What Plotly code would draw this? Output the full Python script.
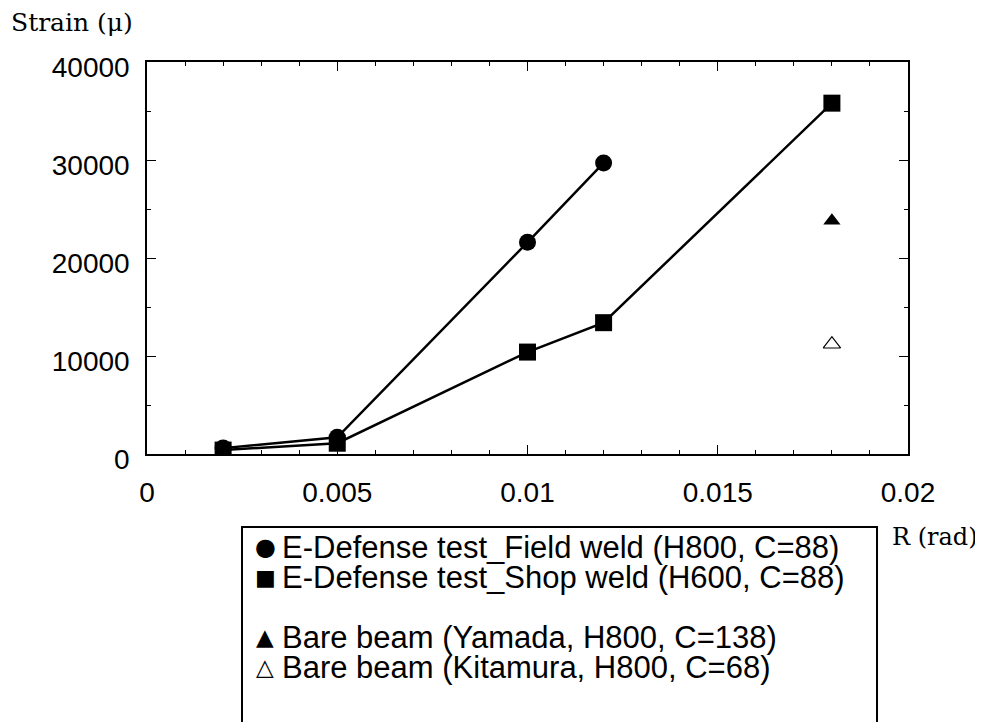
import plotly.graph_objects as go

# ---- data ----
x_field = [0.002, 0.005, 0.010, 0.012]
y_field = [600, 1700, 21600, 29700]
x_shop = [0.002, 0.005, 0.010, 0.012, 0.018]
y_shop = [400, 1100, 10400, 13400, 35800]
x_yamada = [0.018]
y_yamada = [23800]
x_kitamura = [0.018]
y_kitamura = [11200]

legend_labels = [
    "E-Defense test_Field weld (H800, C=88)",
    "E-Defense test_Shop weld (H600, C=88)",
    "Bare beam (Yamada, H800, C=138)",
    "Bare beam (Kitamura, H800, C=68)",
]
legend_glyphs = ["\u25CF", "\u25A0", "\u25B2", "\u25B3"]
y_title = "Strain (\u03bc)"
x_title = "R (rad)"

# page body has an 8px margin; figure sized so it ends at the window edge
OFF = 8
W, H = 983 - OFF, 722 - OFF
PL, PR, PT, PB = 147, 908, 62, 454  # plot area in window pixels


def px(xw):
    return (xw - PL) / (PR - PL)


def py(yw):
    return (PB - yw) / (PB - PT)


fig = go.Figure()
fig.add_trace(go.Scatter(x=x_field, y=y_field, mode="lines+markers",
                         line=dict(color="black", width=2.5),
                         marker=dict(symbol="circle", size=17, color="black")))
fig.add_trace(go.Scatter(x=x_shop, y=y_shop, mode="lines+markers",
                         line=dict(color="black", width=2.5),
                         marker=dict(symbol="square", size=17, color="black")))
fig.add_trace(go.Scatter(x=x_yamada, y=y_yamada, mode="markers",
                         marker=dict(symbol="triangle-up", size=15, color="black")))
fig.add_trace(go.Scatter(x=x_kitamura, y=y_kitamura, mode="markers",
                         marker=dict(symbol="triangle-up-open", size=15, color="black",
                                     line=dict(width=1.2, color="black"))))

axis_common = dict(
    showline=True, linecolor="black", linewidth=1.5, mirror="ticks",
    ticks="inside", ticklen=9, tickwidth=1.2, tickcolor="black",
    showgrid=False, zeroline=False,
    tickfont=dict(family="Liberation Sans, Arial", size=28, color="black"),
)
fig.update_xaxes(range=[0, 0.02], tick0=0, dtick=0.005,
                 minor=dict(tick0=0, dtick=0.001, ticks="inside", ticklen=4,
                            tickwidth=1, tickcolor="black"),
                 ticklabelstandoff=13, **axis_common)
fig.update_yaxes(range=[0, 40000], tick0=0, dtick=10000, tickformat="d",
                 minor=dict(tick0=0, dtick=5000, ticks="inside", ticklen=4,
                            tickwidth=1, tickcolor="black"),
                 ticklabelstandoff=10, ticklabelshift=5, **axis_common)

annotations = []
annotations.append(dict(text=y_title, xref="paper", yref="paper",
                        x=px(9), y=py(23), xanchor="left", yanchor="middle",
                        showarrow=False,
                        font=dict(family="DejaVu Serif", size=25, color="black")))
annotations.append(dict(text=x_title, xref="paper", yref="paper",
                        x=px(890), y=py(537), xanchor="left", yanchor="middle",
                        showarrow=False,
                        font=dict(family="DejaVu Serif", size=24, color="black")))
# manual legend
row_y = [547, 577, 637, 667]
glyph_sizes = [24, 22, 23, 23]
for lab, gl, gs, ry in zip(legend_labels, legend_glyphs, glyph_sizes, row_y):
    annotations.append(dict(text=gl, xref="paper", yref="paper",
                            x=px(265), y=py(ry), xanchor="center", yanchor="middle",
                            showarrow=False,
                            font=dict(family="DejaVu Sans", size=gs, color="black")))
    annotations.append(dict(text=lab, xref="paper", yref="paper",
                            x=px(280), y=py(ry), xanchor="left", yanchor="middle",
                            showarrow=False,
                            font=dict(family="Liberation Sans, Arial", size=31, color="black")))

fig.update_layout(
    width=W, height=H,
    margin=dict(l=PL - OFF, r=W - (PR - OFF), t=PT - OFF, b=H - (PB - OFF)),
    paper_bgcolor="white", plot_bgcolor="white",
    showlegend=False,
    annotations=annotations,
    shapes=[dict(type="rect", xref="paper", yref="paper",
                 x0=px(242), x1=px(877), y0=py(527), y1=py(760),
                 line=dict(color="black", width=2), fillcolor="rgba(0,0,0,0)")],
)

fig.write_html("out.html")
